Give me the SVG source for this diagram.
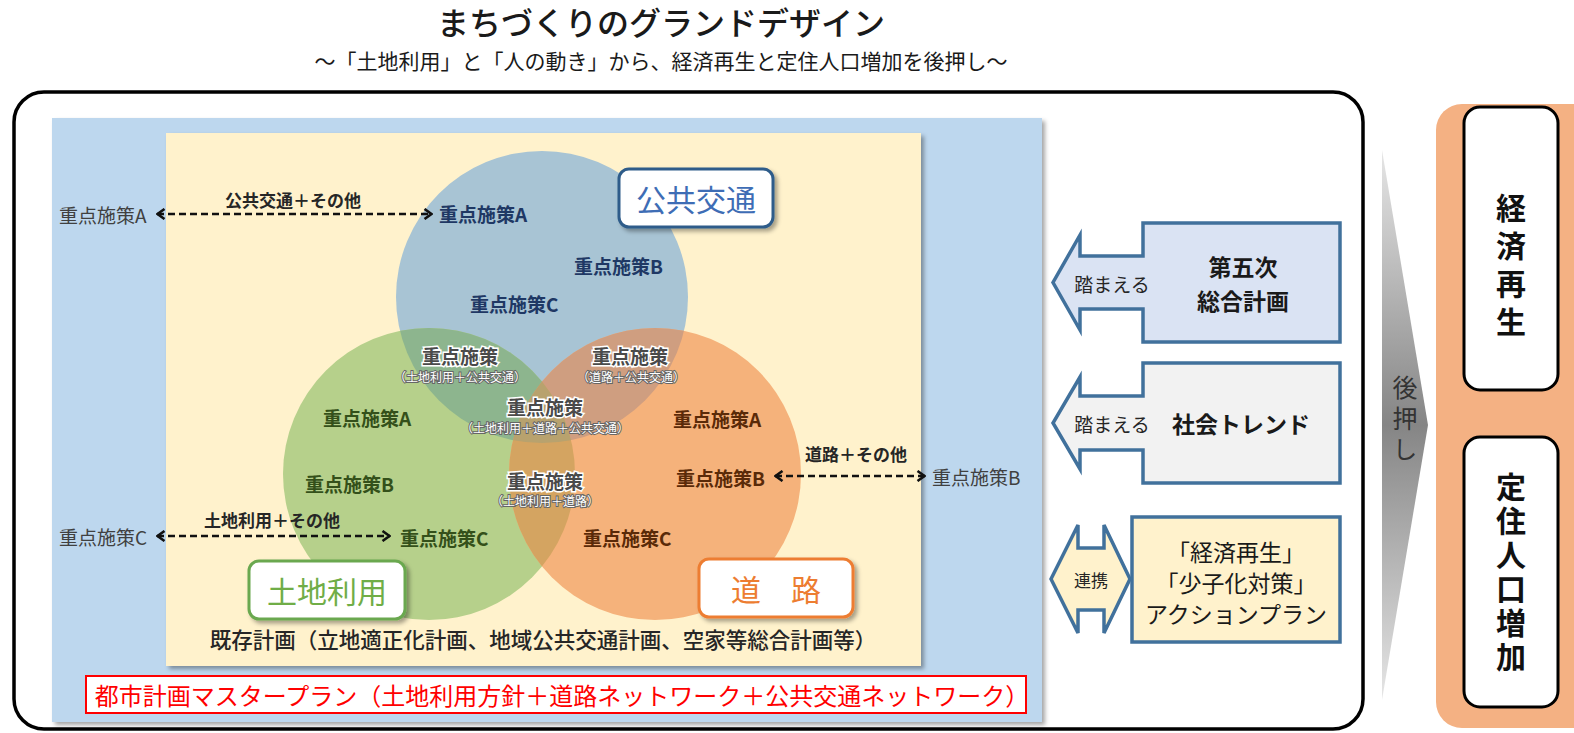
<svg xmlns="http://www.w3.org/2000/svg" width="1574" height="733" viewBox="0 0 1574 733">
<defs>
<style>
text{font-family:"Noto Sans CJK JP","Noto Sans",sans-serif;dominant-baseline:central}
.t{font-size:32px;fill:#1a1a1a;text-anchor:middle;font-weight:500}
.st{font-size:21px;fill:#1a1a1a;text-anchor:middle}
.lb{font-size:19px;font-weight:bold}
.lb-b{fill:#1f3864}
.lb-g{fill:#34501a}
.lb-o{fill:#5a2a08}
.out{font-size:19px;fill:#404040}
.al{font-size:17px;font-weight:bold;fill:#262626;text-anchor:middle}
.ix{font-size:19px;font-weight:bold;fill:#4a4a4a;stroke:#fff;stroke-width:3;paint-order:stroke;text-anchor:middle}
.ixs{font-size:12px;fill:#fff;stroke:#666;stroke-width:2;paint-order:stroke;text-anchor:middle}
.box{fill:#fff;stroke-width:3}
.bt{font-size:30px;text-anchor:middle}
.dash{fill:none;stroke:#111;stroke-width:2.5;stroke-dasharray:7 4;marker-start:url(#ah);marker-end:url(#ah)}
.call{stroke:#41719c;stroke-width:3.5}
.ct{font-size:23px;font-weight:bold;fill:#1a1a1a;text-anchor:middle}
.cs{font-size:19px;fill:#262626;text-anchor:middle}
.vt{font-size:30px;font-weight:bold;fill:#111;text-anchor:middle;writing-mode:vertical-rl}
</style>
<filter id="sh" x="-10%" y="-10%" width="130%" height="130%">
<feDropShadow dx="3" dy="3" stdDeviation="2" flood-color="#000" flood-opacity="0.35"/>
</filter>
<clipPath id="cB"><circle cx="542" cy="297" r="146"/></clipPath>
<clipPath id="cG"><circle cx="429" cy="474" r="146"/></clipPath>
<marker id="ah" viewBox="0 0 10 12" refX="9" refY="6" markerWidth="10" markerHeight="12" markerUnits="userSpaceOnUse" orient="auto-start-reverse">
<path d="M1.5,1 L8.5,6 L1.5,11" fill="none" stroke="#111" stroke-width="2.6"/>
</marker>
<linearGradient id="gg" x1="0" y1="0" x2="0" y2="1">
<stop offset="0" stop-color="#e6e6e6"/>
<stop offset="0.5" stop-color="#858585"/>
<stop offset="1" stop-color="#e6e6e6"/>
</linearGradient>
</defs>

<rect width="1574" height="733" fill="#fff"/>

<g id="title">
<text class="t" x="661" y="21">まちづくりのグランドデザイン</text>
<text class="st" x="661" y="60">～「土地利用」と「人の動き」から、経済再生と定住人口増加を後押し～</text>
</g>

<g id="frame">
<rect x="14" y="92" width="1349" height="637" rx="30" fill="#fff" stroke="#000" stroke-width="3.5"/>
<rect x="52" y="118" width="990" height="604" fill="#bdd7ee" filter="url(#sh)"/>
<rect x="166" y="133" width="755" height="533" fill="#fff2cc" filter="url(#sh)"/>
</g>

<g id="venn">
<circle cx="542" cy="297" r="146" fill="#a8c4d4"/>
<circle cx="429" cy="474" r="146" fill="#b6d08b"/>
<circle cx="655" cy="474" r="146" fill="#f5b27b"/>
<g clip-path="url(#cB)"><circle cx="429" cy="474" r="146" fill="#8db58e"/></g>
<g clip-path="url(#cB)"><circle cx="655" cy="474" r="146" fill="#cf9e80"/></g>
<g clip-path="url(#cG)"><circle cx="655" cy="474" r="146" fill="#d4a461"/></g>
<g clip-path="url(#cB)"><g clip-path="url(#cG)"><circle cx="655" cy="474" r="146" fill="#b8a26e"/></g></g>
</g>

<g id="node-koukyou">
<rect class="box" x="619" y="169" width="154" height="58" rx="10" stroke="#2e5c8a" filter="url(#sh)"/>
<text class="bt" x="696" y="198" fill="#3e6db5">公共交通</text>
</g>
<g id="node-tochi">
<rect class="box" x="249" y="561" width="156" height="58" rx="10" stroke="#6aa84f" filter="url(#sh)"/>
<text class="bt" x="327" y="590" fill="#70ad47">土地利用</text>
</g>
<g id="node-douro">
<rect class="box" x="699" y="559" width="154" height="58" rx="10" stroke="#ed7d31" filter="url(#sh)"/>
<text class="bt" x="776" y="588" fill="#ed7d31">道　路</text>
</g>

<g id="labels-koukyou">
<text class="lb lb-b" x="439" y="213">重点施策A</text>
<text class="lb lb-b" x="574" y="265">重点施策B</text>
<text class="lb lb-b" x="470" y="303">重点施策C</text>
</g>
<g id="labels-tochi">
<text class="lb lb-g" x="323" y="417">重点施策A</text>
<text class="lb lb-g" x="305" y="483">重点施策B</text>
<text class="lb lb-g" x="400" y="537">重点施策C</text>
</g>
<g id="labels-douro">
<text class="lb lb-o" x="673" y="418">重点施策A</text>
<text class="lb lb-o" x="676" y="477">重点施策B</text>
<text class="lb lb-o" x="583" y="537">重点施策C</text>
</g>
<g id="labels-overlap">
<text class="ix" x="460" y="355">重点施策</text>
<text class="ixs" x="460" y="376">（土地利用＋公共交通）</text>
<text class="ix" x="630" y="355">重点施策</text>
<text class="ixs" x="631" y="376">（道路＋公共交通）</text>
<text class="ix" x="545" y="406">重点施策</text>
<text class="ixs" x="545" y="427">（土地利用＋道路＋公共交通）</text>
<text class="ix" x="545" y="480">重点施策</text>
<text class="ixs" x="545" y="500">（土地利用＋道路）</text>
</g>

<g id="outside">
<text class="out" x="59" y="214">重点施策A</text>
<text class="out" x="59" y="536">重点施策C</text>
<text class="out" x="932" y="476">重点施策B</text>
</g>

<g id="connectors">
<line class="dash" x1="157" y1="214" x2="432" y2="214"/>
<text class="al" x="293" y="199">公共交通＋その他</text>
<line class="dash" x1="157" y1="536" x2="390" y2="536"/>
<text class="al" x="272" y="519">土地利用＋その他</text>
<line class="dash" x1="775" y1="476" x2="925" y2="476"/>
<text class="al" x="856" y="453">道路＋その他</text>
</g>

<g id="plans">
<text x="543" y="638" font-size="21.5" font-weight="500" fill="#262626" text-anchor="middle">既存計画（立地適正化計画、地域公共交通計画、空家等総合計画等）</text>
<rect x="86" y="676" width="940" height="37" fill="#fff" stroke="#ff0000" stroke-width="2"/>
<text x="562" y="694" font-size="24" fill="#ff0000" text-anchor="middle">都市計画マスタープラン（土地利用方針＋道路ネットワーク＋公共交通ネットワーク）</text>
</g>

<g id="node-daigoji">
<path class="call" fill="#dae3f3" d="M1143,223 H1340 V342 H1143 V309 H1080 V330 L1053,282.5 L1080,235 V256 H1143 Z"/>
<text class="cs" x="1112" y="283">踏まえる</text>
<text class="ct" x="1243" y="266">第五次</text>
<text class="ct" x="1243" y="300">総合計画</text>
</g>
<g id="node-trend">
<path class="call" fill="#f2f2f2" d="M1143,363 H1340 V483 H1143 V450 H1080 V469 L1053,423 L1080,377 V396 H1143 Z"/>
<text class="cs" x="1112" y="423">踏まえる</text>
<text class="ct" x="1241" y="423">社会トレンド</text>
</g>
<g id="node-action">
<path class="call" fill="#fff2cc" d="M1051,579 L1078,525 V548 H1104 V525 L1130,579 L1104,633 V610 H1078 V633 Z"/>
<text x="1091" y="579" font-size="17" fill="#262626" text-anchor="middle">連携</text>
<rect class="call" x="1132" y="517" width="208" height="125" fill="#fff2cc"/>
<text class="ct" style="font-weight:normal" x="1236" y="551">「経済再生」</text>
<text class="ct" style="font-weight:normal" x="1236" y="582">「少子化対策」</text>
<text class="ct" style="font-weight:normal" x="1236" y="613">アクションプラン</text>
</g>

<g id="node-atooshi">
<path d="M1382,150 L1428,425 L1382,700 Z" fill="url(#gg)"/>
<text x="1405" y="421" font-size="25" fill="#333" text-anchor="middle" style="writing-mode:vertical-rl;letter-spacing:6px">後押し</text>
</g>

<g id="goals">
<rect x="1436" y="104" width="170" height="624" rx="26" fill="#f4b183"/>
<g id="node-keizai">
<rect x="1464" y="107" width="94" height="283" rx="16" fill="#fff" stroke="#000" stroke-width="3"/>
<text class="vt" x="1511" y="269" style="letter-spacing:8px">経済再生</text>
</g>
<g id="node-teijuu">
<rect x="1464" y="437" width="94" height="270" rx="16" fill="#fff" stroke="#000" stroke-width="3"/>
<text class="vt" x="1511" y="574" style="letter-spacing:4px">定住人口増加</text>
</g>
</g>
</svg>
